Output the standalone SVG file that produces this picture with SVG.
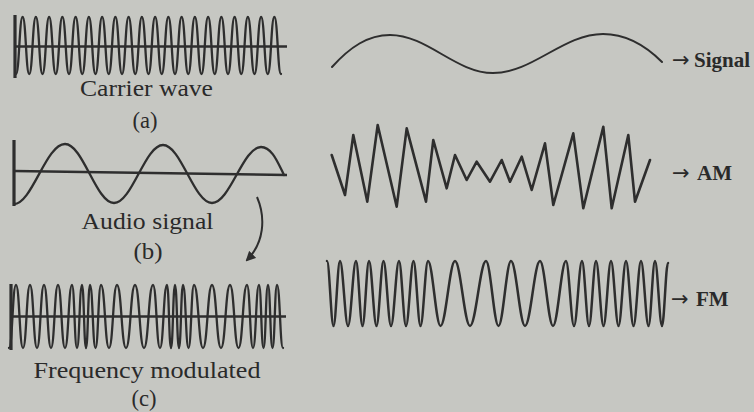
<svg xmlns="http://www.w3.org/2000/svg" width="754" height="412" viewBox="0 0 754 412">
<defs>
<style>
.wave{fill:none;stroke:#2e2e2e;stroke-width:2.3;stroke-linejoin:round;stroke-linecap:round}
.axis{fill:none;stroke:#2e2e2e;stroke-width:2.6}
.bar{fill:none;stroke:#2e2e2e;stroke-width:3.2}
.lbl{font-family:"Liberation Serif","Times New Roman",serif;font-size:23px;fill:#2a2a2a;text-anchor:middle}
.tag{font-family:"Liberation Serif","Times New Roman",serif;font-size:21px;font-weight:bold;fill:#2a2a2a}
.arr{font-family:"DejaVu Sans",sans-serif;font-size:21px;font-weight:normal}
</style>
<marker id="ah" viewBox="0 0 10 10" refX="8" refY="5" markerWidth="5" markerHeight="5" orient="auto" markerUnits="strokeWidth">
<path d="M0,0 L10,5 L0,10 Z" fill="#2e2e2e"/>
</marker>
</defs>
<rect width="754" height="412" fill="#c6c7c2"/>

<g id="carrier">
<line class="bar" x1="15" y1="15" x2="15" y2="78"/>
<line class="axis" x1="15" y1="46.5" x2="287" y2="46.5"/>
<path class="wave" d="M16,74 c3.3,0 3.3,-57 6.625,-57 c3.3,0 3.3,57 6.625,57 c3.3,0 3.3,-57 6.625,-57 c3.3,0 3.3,57 6.625,57 c3.3,0 3.3,-57 6.625,-57 c3.3,0 3.3,57 6.625,57 c3.3,0 3.3,-57 6.625,-57 c3.3,0 3.3,57 6.625,57 c3.3,0 3.3,-57 6.625,-57 c3.3,0 3.3,57 6.625,57 c3.3,0 3.3,-57 6.625,-57 c3.3,0 3.3,57 6.625,57 c3.3,0 3.3,-57 6.625,-57 c3.3,0 3.3,57 6.625,57 c3.3,0 3.3,-57 6.625,-57 c3.3,0 3.3,57 6.625,57 c3.3,0 3.3,-57 6.625,-57 c3.3,0 3.3,57 6.625,57 c3.3,0 3.3,-57 6.625,-57 c3.3,0 3.3,57 6.625,57 c3.3,0 3.3,-57 6.625,-57 c3.3,0 3.3,57 6.625,57 c3.3,0 3.3,-57 6.625,-57 c3.3,0 3.3,57 6.625,57 c3.3,0 3.3,-57 6.625,-57 c3.3,0 3.3,57 6.625,57 c3.3,0 3.3,-57 6.625,-57 c3.3,0 3.3,57 6.625,57 c3.3,0 3.3,-57 6.625,-57 c3.3,0 3.3,57 6.625,57 c3.3,0 3.3,-57 6.625,-57 c3.3,0 3.3,57 6.625,57 c3.3,0 3.3,-57 6.625,-57 c3.3,0 3.3,57 6.625,57 c3.3,0 3.3,-57 6.625,-57 c3.3,0 3.3,57 6.625,57 c3.3,0 3.3,-57 6.625,-57 c3.3,0 3.3,57 6.625,57 c3.3,0 3.3,-57 6.625,-57 c3.3,0 3.3,57 6.625,57"/>
<text class="lbl" x="146.5" y="96" textLength="133" lengthAdjust="spacingAndGlyphs">Carrier wave</text>
<text class="lbl" x="145" y="128" textLength="25" lengthAdjust="spacingAndGlyphs">(a)</text>
</g>

<g id="audio">
<line class="bar" x1="14" y1="140" x2="14" y2="206"/>
<line class="axis" x1="14" y1="171" x2="287" y2="175"/>
<path class="wave" d="M14,204 C32,204 46,144 65,144 C83,144 96,203 114,203 C132,203 145,145 163,145 C181,145 194,203 212,203 C230,203 243,147 261,147 C272,147 278,163 284,175"/>
<text class="lbl" x="147.5" y="229" textLength="132" lengthAdjust="spacingAndGlyphs">Audio signal</text>
<text class="lbl" x="148" y="259" textLength="29" lengthAdjust="spacingAndGlyphs">(b)</text>
</g>

<g id="fm-modulated">
<line class="bar" x1="11" y1="284" x2="11" y2="350"/>
<line class="axis" x1="11" y1="316.5" x2="286" y2="316.5"/>
<path class="wave" d="M9,348 C12.5,348 12.5,285 16,285 C19.5,285 19.5,348 23,348 C26.5,348 26.5,285 30,285 C33.5,285 33.5,348 37,348 C40.5,348 40.5,285 44,285 C47.5,285 47.5,348 51,348 C54.5,348 54.5,285 58,285 C61.5,285 61.5,348 65,348 C68.5,348 68.5,285 72,285 C74.5,285 74.5,348 77,348 C79.5,348 79.5,285 82,285 C84,285 84,348 86,348 C88,348 88,285 90,285 C92.75,285 92.75,348 95.5,348 C98.25,348 98.25,285 101,285 C105,285 105,348 109,348 C113,348 113,285 117,285 C121.5,285 121.5,348 126,348 C130.5,348 130.5,285 135,285 C139.5,285 139.5,348 144,348 C148.5,348 148.5,285 153,285 C156.5,285 156.5,348 160,348 C163.5,348 163.5,285 167,285 C169,285 169,348 171,348 C173,348 173,285 175,285 C177,285 177,348 179,348 C181,348 181,285 183,285 C185.75,285 185.75,348 188.5,348 C191.25,348 191.25,285 194,285 C198.5,285 198.5,348 203,348 C207.5,348 207.5,285 212,285 C216.5,285 216.5,348 221,348 C225.5,348 225.5,285 230,285 C234.25,285 234.25,348 238.5,348 C242.75,348 242.75,285 247,285 C250,285 250,348 253,348 C256,348 256,285 259,285 C261.25,285 261.25,348 263.5,348 C265.75,348 265.75,285 268,285 C270.25,285 270.25,348 272.5,348 C274.75,348 274.75,285 277,285 C280,285 280,348 283,348"/>
<text class="lbl" x="147" y="378" textLength="227" lengthAdjust="spacingAndGlyphs">Frequency modulated</text>
<text class="lbl" x="144" y="406" textLength="25" lengthAdjust="spacingAndGlyphs">(c)</text>
</g>

<g id="signal">
<path class="wave" style="stroke-width:2" d="M332,67 C350,47 368,35 390,35 C427.4,35 455.6,73 493,73 C533,73 563,34 603,34 C625,34 645,45 662,62"/>
<text class="tag" x="672" y="67"><tspan class="arr">→</tspan><tspan x="694">Signal</tspan></text>
</g>

<g id="am">
<polyline class="wave" style="stroke-width:2.6" points="331.7,155 345,195 353.3,135 367.3,201.7 377.7,125 396.7,206.7 406.7,128.3 426,201.7 433.3,140 446.7,188.3 455,155 466.7,180 476.7,161.7 490,181.7 501.7,160 510,181.7 521.7,156.7 531.7,190 545,143.3 553.3,205 573.3,133.3 583.3,208.3 603.3,126.7 611.7,208.3 628.3,135 635,201.7 650,160"/>
<text class="tag" x="672" y="180"><tspan class="arr">→</tspan><tspan x="697">AM</tspan></text>
</g>

<g id="fm">
<path class="wave" style="stroke-width:2.5" d="M327,261 C329.4,261 331.1,326 333.5,326 C335.9,326 337.6,261 340,261 C342.9,261 345.1,326 348,326 C350.9,326 353.1,261 356,261 C358.4,261 360.1,326 362.5,326 C364.9,326 366.6,261 369,261 C371.7,261 373.8,326 376.5,326 C379,326 381,261 383.5,261 C386.2,261 388.3,326 391,326 C393.9,326 396.1,261 399,261 C401.5,261 403.5,326 406,326 C408.7,326 410.8,261 413.5,261 C416,261 418,326 420.5,326 C423.2,326 425.3,261 428,261 C432.5,261 436,326 440.5,326 C445.8,326 449.7,261 455,261 C460.5,261 464.5,326 470,326 C475.8,326 480.2,261 486,261 C490.5,261 494,326 498.5,326 C503,326 506.5,261 511,261 C516.1,261 519.9,326 525,326 C530.5,326 534.5,261 540,261 C544.7,261 548.3,326 553,326 C557.7,326 561.3,261 566,261 C568.9,261 571.1,326 574,326 C576.9,326 579.1,261 582,261 C584.5,261 586.5,326 589,326 C591.5,326 593.5,261 596,261 C598.7,261 600.8,326 603.5,326 C606.2,326 608.3,261 611,261 C613.7,261 615.8,326 618.5,326 C621.2,326 623.3,261 626,261 C628.7,261 630.8,326 633.5,326 C636.2,326 638.3,261 641,261 C643.7,261 645.8,326 648.5,326 C650.9,326 652.6,261 655,261 C657.5,261 659.5,326 662,326 C664.2,326 665.8,263 668,263"/>
<text class="tag" x="671" y="306"><tspan class="arr">→</tspan><tspan x="696">FM</tspan></text>
</g>

<g id="connectors">
<path d="M257,197 C266,218 264,243 247,260" fill="none" stroke="#2e2e2e" stroke-width="2" marker-end="url(#ah)"/>
</g>
</svg>
